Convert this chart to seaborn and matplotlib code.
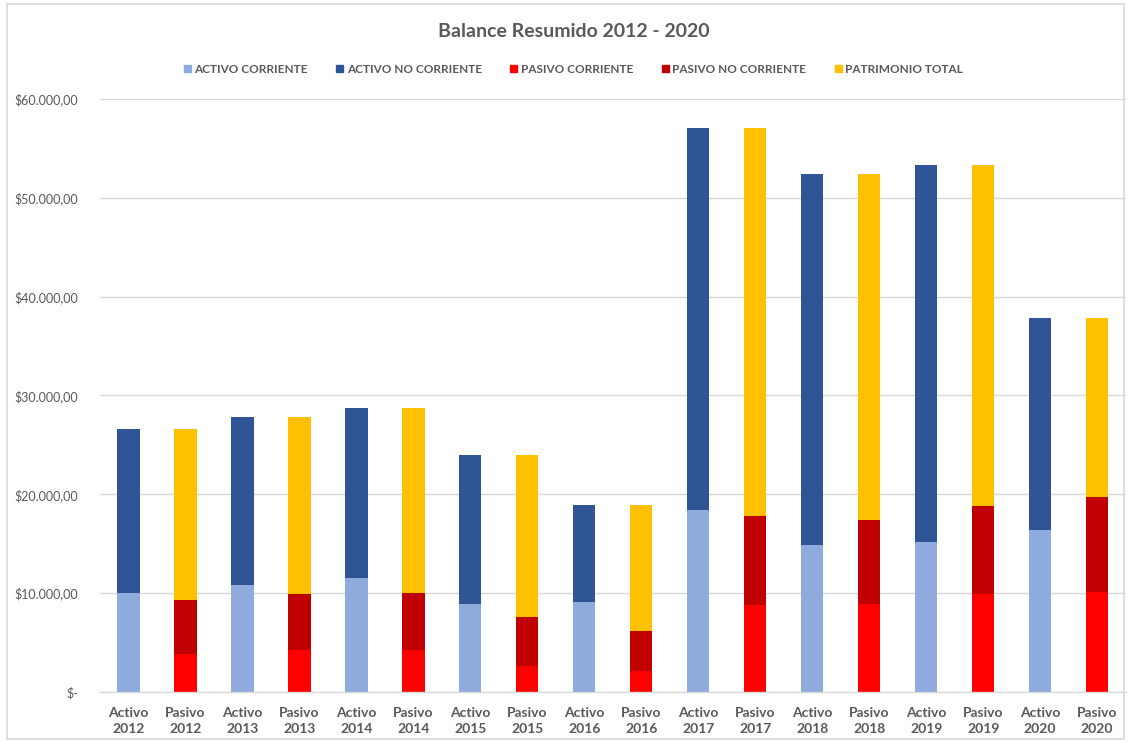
import matplotlib
matplotlib.use("Agg")
import matplotlib.pyplot as plt
import matplotlib.patches as mpatches
from matplotlib.ticker import FuncFormatter
import seaborn as sns
import pandas as pd
import numpy as np

years = [2012, 2013, 2014, 2015, 2016, 2017, 2018, 2019, 2020]
activo_corriente = [10050, 10830, 11500, 8870, 9075, 18420, 14870, 15180, 16390]
activo_no_corriente = [16560, 17000, 17240, 15110, 9875, 38620, 37510, 38140, 21450]
pasivo_corriente = [3845, 4250, 4250, 2630, 2125, 8800, 8940, 9920, 10120]
pasivo_no_corriente = [5465, 5670, 5740, 4960, 4045, 9010, 8460, 8900, 9610]
patrimonio_total = [17300, 17910, 18750, 16390, 12780, 39230, 34980, 34500, 18110]

series_names = ["ACTIVO CORRIENTE", "ACTIVO NO CORRIENTE", "PASIVO CORRIENTE",
                "PASIVO NO CORRIENTE", "PATRIMONIO TOTAL"]
colors = ["#8FAADC", "#2F5597", "#FF0000", "#C00000", "#FFC000"]

categories = []
for y in years:
    categories.append(f"Activo\n{y}")
    categories.append(f"Pasivo\n{y}")

ac = np.array(activo_corriente, float)
anc = np.array(activo_no_corriente, float)
pc = np.array(pasivo_corriente, float)
pnc = np.array(pasivo_no_corriente, float)
pt = np.array(patrimonio_total, float)

def interleave(a, p):
    out = []
    for x, y in zip(a, p):
        out += [x, y]
    return out

zeros = np.zeros(len(years))
# cumulative layers drawn from tallest to shortest
layers = [
    (interleave(ac + anc, zeros), colors[1]),
    (interleave(ac, zeros), colors[0]),
    (interleave(zeros, pc + pnc + pt), colors[4]),
    (interleave(zeros, pc + pnc), colors[3]),
    (interleave(zeros, pc), colors[2]),
]

sns.set_style("white")
plt.rcParams["font.family"] = ["Lato", "DejaVu Sans"]

fig = plt.figure(figsize=(11.29, 7.42), dpi=100)
ax = fig.add_axes([0.0886, 0.0674, 0.9084, 0.7992])

for vals, col in layers:
    df = pd.DataFrame({"cat": categories, "val": vals})
    sns.barplot(data=df, x="cat", y="val", order=categories, color=col,
                width=0.39, linewidth=0, saturation=1, ax=ax, errorbar=None)

ax.set_ylim(0, 60000)
ax.set_xlim(-0.5, len(categories) - 0.5)
ax.set_yticks(np.arange(0, 60001, 10000))
ax.set_xticks(range(len(categories)))
ax.set_xticklabels(categories, fontweight="bold", fontsize=10, color="#595959",
                   linespacing=1.35)

def fmt(v, pos):
    if v == 0:
        return "$-"
    s = f"{int(v):,}".replace(",", ".")
    return f"${s},00"

ax.yaxis.set_major_formatter(FuncFormatter(fmt))
ax.grid(axis="y", color="#D9D9D9", linewidth=1)
ax.set_axisbelow(True)
for s in ["top", "right", "left"]:
    ax.spines[s].set_visible(False)
ax.spines["bottom"].set_color("#D9D9D9")
ax.spines["bottom"].set_linewidth(1)
ax.tick_params(axis="both", length=0)
ax.tick_params(axis="y", labelsize=9, labelcolor="#595959", pad=16)
ax.tick_params(axis="x", pad=11)
ax.set_xlabel("")
ax.set_ylabel("")

fig.text(0.508, 0.957, "Balance Resumido 2012 - 2020", ha="center", va="center",
         fontsize=14, fontweight="bold", color="#595959")

handles = [mpatches.Patch(color=c, label=n) for n, c in zip(series_names, colors)]
leg = fig.legend(handles=handles, loc="center", bbox_to_anchor=(0.508, 0.907), ncol=5,
                 frameon=False, fontsize=8.5, handlelength=0.6, handleheight=0.6,
                 handletextpad=0.3, columnspacing=2.4)
for t in leg.get_texts():
    t.set_color("#595959")
    t.set_fontweight("bold")

border = mpatches.Rectangle((0.006, 0.004), 0.99, 0.99, transform=fig.transFigure,
                            fill=False, edgecolor="#D9D9D9", linewidth=1.2)
fig.patches.append(border)

fig.savefig("out.png", dpi=100)
